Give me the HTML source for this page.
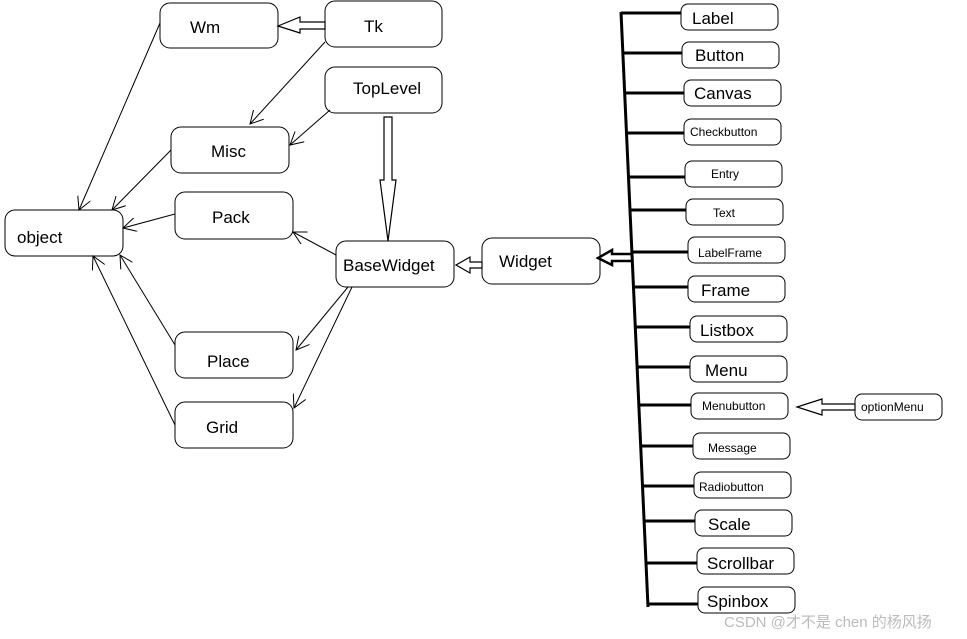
<!DOCTYPE html>
<html><head><meta charset="utf-8"><style>
html,body{margin:0;padding:0;background:#fff;}
svg{display:block}
text{font-family:"Liberation Sans","DejaVu Sans",sans-serif;fill:#000}
</style></head><body>
<svg width="967" height="639" viewBox="0 0 967 639" xmlns="http://www.w3.org/2000/svg">
<defs>
<marker id="a" markerWidth="14" markerHeight="14" refX="13" refY="7" orient="auto" markerUnits="userSpaceOnUse">
<path d="M0,0 L13,7 L0,14" fill="none" stroke="#000" stroke-width="1"/>
</marker>
</defs>
<g fill="#fff" stroke="#000" stroke-width="1">
<rect x="160" y="3" width="118" height="45" rx="10"/>
<rect x="325" y="1" width="117" height="46" rx="10"/>
<rect x="325" y="67" width="117" height="46" rx="10"/>
<rect x="171" y="127" width="118" height="46" rx="10"/>
<rect x="175" y="192" width="118" height="47" rx="10"/>
<rect x="5" y="210" width="118" height="46" rx="10"/>
<rect x="336" y="241" width="118" height="46" rx="10"/>
<rect x="482" y="238" width="118" height="46" rx="10"/>
<rect x="175" y="332" width="118" height="46" rx="10"/>
<rect x="175" y="402" width="118" height="46" rx="10"/>
<rect x="681" y="4" width="97" height="26" rx="7"/>
<rect x="682" y="42" width="97" height="26" rx="7"/>
<rect x="684" y="80" width="97" height="26" rx="7"/>
<rect x="684" y="119" width="97" height="26" rx="7"/>
<rect x="685" y="161" width="97" height="26" rx="7"/>
<rect x="686" y="199" width="97" height="26" rx="7"/>
<rect x="688" y="237" width="97" height="26" rx="7"/>
<rect x="688" y="276" width="97" height="26" rx="7"/>
<rect x="690" y="316" width="97" height="26" rx="7"/>
<rect x="690" y="356" width="97" height="26" rx="7"/>
<rect x="691" y="393" width="97" height="26" rx="7"/>
<rect x="693" y="433" width="97" height="26" rx="7"/>
<rect x="694" y="472" width="97" height="26" rx="7"/>
<rect x="695" y="510" width="97" height="26" rx="7"/>
<rect x="697" y="548" width="97" height="26" rx="7"/>
<rect x="698" y="587" width="97" height="26" rx="7"/>
<rect x="855" y="394" width="87" height="26" rx="7"/>
</g>
<g font-size="17">
<text x="190" y="33">Wm</text>
<text x="364" y="32">Tk</text>
<text x="353" y="94">TopLevel</text>
<text x="211" y="157">Misc</text>
<text x="212" y="223">Pack</text>
<text x="17" y="243">object</text>
<text x="343" y="271">BaseWidget</text>
<text x="499" y="267">Widget</text>
<text x="207" y="367">Place</text>
<text x="206" y="433">Grid</text>
<text x="692" y="24">Label</text>
<text x="695" y="61">Button</text>
<text x="694" y="99">Canvas</text>
<text x="701" y="296">Frame</text>
<text x="700" y="336">Listbox</text>
<text x="705" y="376">Menu</text>
<text x="708" y="530">Scale</text>
<text x="707" y="569">Scrollbar</text>
<text x="707" y="607">Spinbox</text>
</g>
<g font-size="12">
<text x="690" y="136">Checkbutton</text>
<text x="711" y="178">Entry</text>
<text x="713" y="217">Text</text>
<text x="698" y="257">LabelFrame</text>
<text x="702" y="410">Menubutton</text>
<text x="708" y="452">Message</text>
<text x="699" y="491">Radiobutton</text>
<text x="861" y="411">optionMenu</text>
</g>
<g stroke="#000" stroke-width="1" fill="none" marker-end="url(#a)">
<line x1="160" y1="23" x2="79" y2="210"/>
<line x1="325" y1="42" x2="250" y2="124"/>
<line x1="330" y1="110" x2="290" y2="145"/>
<line x1="171" y1="150" x2="112" y2="210"/>
<line x1="175" y1="214" x2="123" y2="228"/>
<line x1="336" y1="255" x2="293" y2="232"/>
<line x1="348" y1="287" x2="296" y2="350"/>
<line x1="352" y1="287" x2="294" y2="408"/>
<line x1="175" y1="345" x2="120" y2="255"/>
<line x1="175" y1="425" x2="93" y2="256"/>
</g>
<g stroke="#000" stroke-width="1.2" fill="#fff">
<path d="M325,22 L300,22 L300,17 L278,26 L300,33 L300,29 L325,29 Z"/>
<path d="M384,117 L392,117 L392,180 L396,180 L388,241 L380,180 L384,180 Z"/>
<path d="M482,262 L470,262 L470,257 L456,265 L470,273 L470,268 L482,268 Z"/>
<path d="M855,404 L822,404 L822,399 L797,407 L822,415 L822,410 L855,410 Z"/>
</g>
<g stroke="#000" stroke-width="3" fill="none">
<line x1="621" y1="12" x2="648" y2="607"/>
<line x1="621" y1="13" x2="681" y2="13"/>
<line x1="623" y1="53" x2="682" y2="53"/>
<line x1="624" y1="93" x2="684" y2="93"/>
<line x1="626" y1="133" x2="684" y2="133"/>
<line x1="628" y1="177" x2="685" y2="177"/>
<line x1="630" y1="210" x2="686" y2="210"/>
<line x1="632" y1="252" x2="688" y2="252"/>
<line x1="633" y1="287" x2="688" y2="287"/>
<line x1="635" y1="327" x2="690" y2="327"/>
<line x1="637" y1="367" x2="690" y2="367"/>
<line x1="638" y1="405" x2="691" y2="405"/>
<line x1="640" y1="446" x2="693" y2="446"/>
<line x1="642" y1="486" x2="694" y2="486"/>
<line x1="644" y1="521" x2="695" y2="521"/>
<line x1="645" y1="563" x2="697" y2="563"/>
<line x1="647" y1="604" x2="698" y2="604"/>
<path d="M632,254 L612,254 L612,250 L598,258 L612,265 L612,261 L632,261" stroke-width="2.5"/>
</g>
<text x="724" y="627" font-size="15" style="fill:#bbb;font-family:'Liberation Sans','Noto Sans CJK SC',sans-serif">CSDN @才不是 chen 的杨风扬</text>
</svg>
</body></html>
